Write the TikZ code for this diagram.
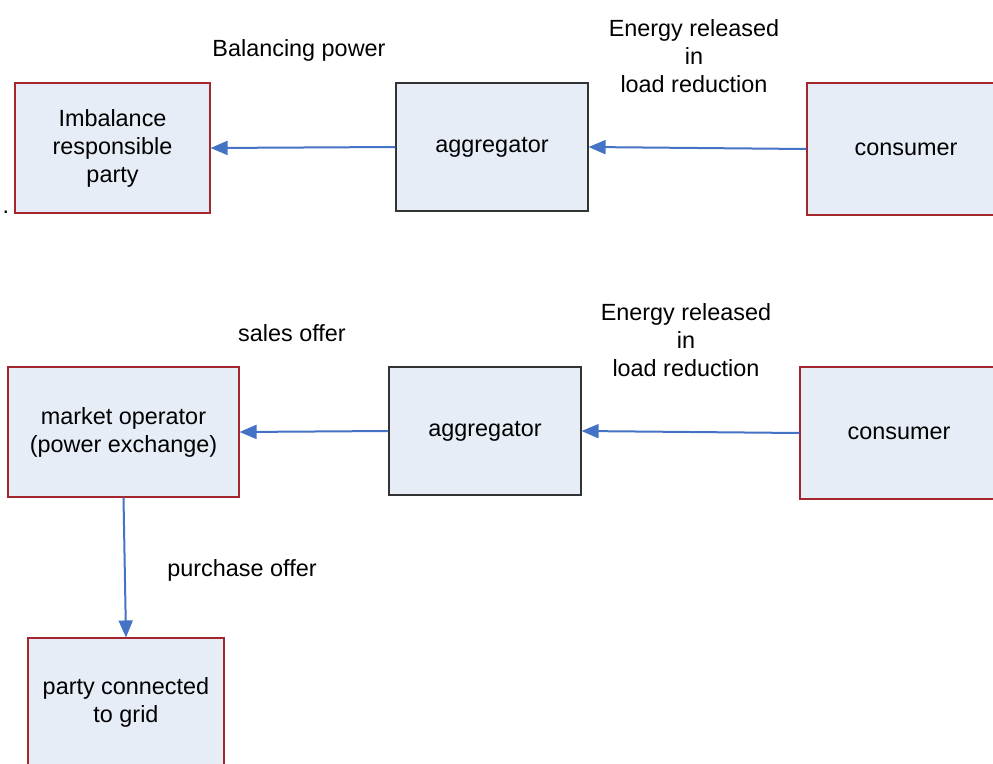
\documentclass[tikz,border=0pt]{standalone}
\usepackage{fontspec}
\setmainfont{Liberation Sans}
\usepackage{xcolor}
\usetikzlibrary{arrows.meta, positioning}
\definecolor{BoxFill}{HTML}{E6EDF7}
\definecolor{BoxRed}{HTML}{A3272D}
\definecolor{BoxDark}{HTML}{333333}
\definecolor{ArrBlue}{HTML}{4472C4}

\begin{document}
\begin{tikzpicture}[
  x=1pt, y=-1pt,
  font=\fontsize{23.4}{28}\selectfont,
  party/.style={draw=BoxRed, fill=BoxFill, line width=1.1pt,
                align=center, inner sep=0pt},
  agg/.style={draw=BoxDark, fill=BoxFill, line width=1.1pt,
              align=center, inner sep=0pt,
              minimum width=192pt, minimum height=128pt},
  lbl/.style={align=center, inner sep=0pt},
  arr/.style={-{Triangle[length=17pt, width=14pt]}, draw=ArrBlue, fill=ArrBlue, line width=2pt},
]
\useasboundingbox (0,0) rectangle (993,763);
% top row
\node[party, minimum width=195pt, minimum height=130pt] (irp)  at (112.5,148) {Imbalance\\responsible\\party};
\node[agg] (aggtop) at (492,147) {aggregator};
\node[party, minimum width=198pt, minimum height=132pt] (constop) at (906,149) {consumer};
\node[lbl] (balance) at (299,50) {Balancing power};
\node[lbl] (relTop)  at (694,56) {Energy released\\in\\load reduction};
\node[lbl] (dot) at (6,212) {.};
% bottom row
\node[party, minimum width=231pt, minimum height=130pt] (market) at (123.5,432) {market operator\\(power exchange)};
\node[agg] (aggbot) at (485,431) {aggregator};
\node[party, minimum width=198pt, minimum height=132pt] (consbot) at (899,433) {consumer};
\node[party, minimum width=196pt, minimum height=128pt] (grid) at (126,702) {party connected\\to grid};
\node[lbl] (sales)    at (292,333) {sales offer};
\node[lbl] (relBot)   at (686,340) {Energy released\\in\\load reduction};
\node[lbl] (purchase) at (242,570) {purchase offer};

\draw[arr] (constop.west) -- (aggtop.east);
\draw[arr] (aggtop.west)  -- (irp.east);
\draw[arr] (consbot.west) -- (aggbot.east);
\draw[arr] (aggbot.west)  -- (market.east);
\draw[arr] (market.south) -- (grid.north);
\end{tikzpicture}
\end{document}
